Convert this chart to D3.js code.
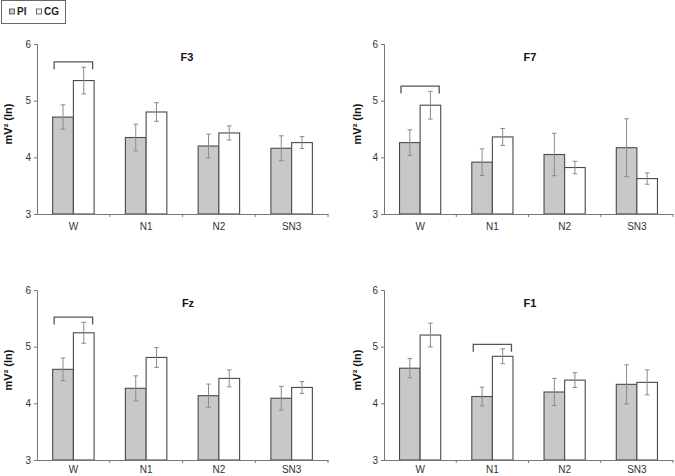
<!DOCTYPE html>
<html><head><meta charset="utf-8">
<script src="https://cdn.jsdelivr.net/npm/d3@7"></script>
<style>body{margin:0;background:#fff}svg{display:block}text{font-family:"Liberation Sans",Arial,sans-serif}</style>
</head><body><svg id="c" width="675" height="476"></svg>
<script>
const categories = ["W", "N1", "N2", "SN3"];
const seriesNames = ["PI", "CG"];
const yTicks = [3, 4, 5, 6];
const panelTitles = ["F3", "F7", "Fz", "F1"];
const yLabel = "mV\u00B2 (ln)";

const F3_PI = [4.71, 4.35, 4.20, 4.16];
const F3_PI_err = [0.215, 0.235, 0.21, 0.22];
const F3_CG = [5.355, 4.80, 4.43, 4.26];
const F3_CG_err = [0.235, 0.165, 0.125, 0.105];

const F7_PI = [4.26, 3.915, 4.05, 4.17];
const F7_PI_err = [0.225, 0.235, 0.375, 0.51];
const F7_CG = [4.92, 4.36, 3.82, 3.625];
const F7_CG_err = [0.245, 0.15, 0.11, 0.10];

const Fz_PI = [4.60, 4.265, 4.135, 4.09];
const Fz_PI_err = [0.20, 0.22, 0.205, 0.21];
const Fz_CG = [5.245, 4.81, 4.44, 4.28];
const Fz_CG_err = [0.185, 0.175, 0.15, 0.105];

const F1_PI = [4.62, 4.12, 4.20, 4.335];
const F1_PI_err = [0.17, 0.165, 0.24, 0.345];
const F1_CG = [5.205, 4.83, 4.41, 4.37];
const F1_CG_err = [0.21, 0.13, 0.13, 0.22];

// significance brackets: [category, level]
const F3_bracket = ["W", 5.686];
const F7_bracket = ["W", 5.256];
const Fz_bracket = ["W", 5.523];
const F1_bracket = ["N1", 5.04];
const bracketDrop = 0.13;

const panelData = [
  {title: panelTitles[0], pi: F3_PI, piErr: F3_PI_err, cg: F3_CG, cgErr: F3_CG_err, br: F3_bracket},
  {title: panelTitles[1], pi: F7_PI, piErr: F7_PI_err, cg: F7_CG, cgErr: F7_CG_err, br: F7_bracket},
  {title: panelTitles[2], pi: Fz_PI, piErr: Fz_PI_err, cg: Fz_CG, cgErr: Fz_CG_err, br: Fz_bracket},
  {title: panelTitles[3], pi: F1_PI, piErr: F1_PI_err, cg: F1_CG, cgErr: F1_CG_err, br: F1_bracket}
];

const layout = [
  {x0: 37, x1: 328, y0: 44, y1: 214, lx: 8, tx: 187, pad: 9},
  {x0: 384, x1: 673, y0: 44, y1: 214, lx: 357, tx: 530, pad: 9},
  {x0: 37, x1: 328, y0: 290, y1: 460, lx: 8, tx: 188, pad: 6},
  {x0: 384, x1: 673, y0: 290, y1: 460, lx: 357, tx: 530, pad: 6}
];

const fills = {PI: "#c8c8c8", CG: "#ffffff"};
const svg = d3.select("#c");

panelData.forEach((p, i) => {
  const L = layout[i];
  const g = svg.append("g");
  const x = d3.scaleBand().domain(categories).range([L.x0, L.x1]).paddingInner(0.43).paddingOuter(0.215);
  const xs = d3.scaleBand().domain(seriesNames).range([0, x.bandwidth()]);
  const y = d3.scaleLinear().domain([3, 6]).range([L.y1, L.y0]);

  const rows = [];
  categories.forEach((c, j) => {
    rows.push({c, s: "PI", v: p.pi[j], e: p.piErr[j]});
    rows.push({c, s: "CG", v: p.cg[j], e: p.cgErr[j]});
  });
  g.selectAll("rect.bar").data(rows).join("rect")
    .attr("x", d => x(d.c) + xs(d.s))
    .attr("y", d => y(d.v))
    .attr("width", xs.bandwidth())
    .attr("height", d => y(3) - y(d.v))
    .attr("fill", d => fills[d.s])
    .attr("stroke", "#4a4a4a").attr("stroke-width", 1.1);

  const eg = g.selectAll("g.err").data(rows).join("g")
    .attr("stroke", "#8a8a8a").attr("stroke-width", 1);
  eg.append("line")
    .attr("x1", d => x(d.c) + xs(d.s) + xs.bandwidth() / 2)
    .attr("x2", d => x(d.c) + xs(d.s) + xs.bandwidth() / 2)
    .attr("y1", d => y(d.v + d.e)).attr("y2", d => y(d.v - d.e));
  [1, -1].forEach(sg => {
    eg.append("line")
      .attr("x1", d => x(d.c) + xs(d.s) + xs.bandwidth() / 2 - 2.3)
      .attr("x2", d => x(d.c) + xs(d.s) + xs.bandwidth() / 2 + 2.3)
      .attr("y1", d => y(d.v + sg * d.e)).attr("y2", d => y(d.v + sg * d.e));
  });

  const bx0 = x(p.br[0]) + 1.5, bx1 = x(p.br[0]) + x.bandwidth() - 1.5;
  g.append("path")
    .attr("d", `M${bx0},${y(p.br[1] - bracketDrop)}V${y(p.br[1])}H${bx1}V${y(p.br[1] - bracketDrop)}`)
    .attr("fill", "none").attr("stroke", "#555").attr("stroke-width", 1.3);

  const ya = g.append("g").attr("transform", `translate(${L.x0},0)`)
    .call(d3.axisLeft(y).tickValues(yTicks).tickFormat(d3.format("d")).tickSize(3).tickPadding(3));
  ya.select(".domain").attr("stroke", "#777");
  ya.selectAll(".tick line").attr("stroke", "#777");
  ya.selectAll(".tick text").attr("fill", "#333").style("font-size", "10px");

  const xa = g.append("g").attr("transform", `translate(0,${L.y1})`)
    .call(d3.axisBottom(x).tickSize(0).tickPadding(L.pad));
  xa.select(".domain").attr("stroke", "#777");
  xa.selectAll(".tick text").attr("fill", "#333").style("font-size", "10px");
  const step = x.step();
  xa.selectAll("line.bt").data(categories).join("line")
    .attr("x1", c => Math.min(L.x1, x(c) + x.bandwidth() + step * 0.43 / 2))
    .attr("x2", c => Math.min(L.x1, x(c) + x.bandwidth() + step * 0.43 / 2))
    .attr("y1", 0).attr("y2", 3).attr("stroke", "#777");

  g.append("text").attr("x", L.tx).attr("y", L.y0 + 16.5)
    .attr("text-anchor", "middle").style("font-size", "11px").style("font-weight", "bold")
    .attr("fill", "#111").text(p.title);

  g.append("text")
    .attr("transform", `translate(${L.lx + 4},${(L.y0 + L.y1) / 2 - 5}) rotate(-90)`)
    .attr("text-anchor", "middle").style("font-size", "11px").style("font-weight", "bold")
    .attr("fill", "#111").text(yLabel);
});

const lg = svg.append("g");
lg.append("rect").attr("x", 1.5).attr("y", 0.5).attr("width", 64).attr("height", 23)
  .attr("fill", "#fff").attr("stroke", "#666");
const lx = d3.scalePoint().domain(seriesNames).range([9.5, 36.5]);
seriesNames.forEach(s => {
  lg.append("rect").attr("x", lx(s)).attr("y", 9).attr("width", 5).attr("height", 5)
    .attr("fill", fills[s]).attr("stroke", "#444").attr("stroke-width", 0.8);
  lg.append("text").attr("x", lx(s) + 7.5).attr("y", 15.3)
    .style("font-size", "10px").style("font-weight", "bold").attr("fill", "#222").text(s);
});
</script></body></html>
